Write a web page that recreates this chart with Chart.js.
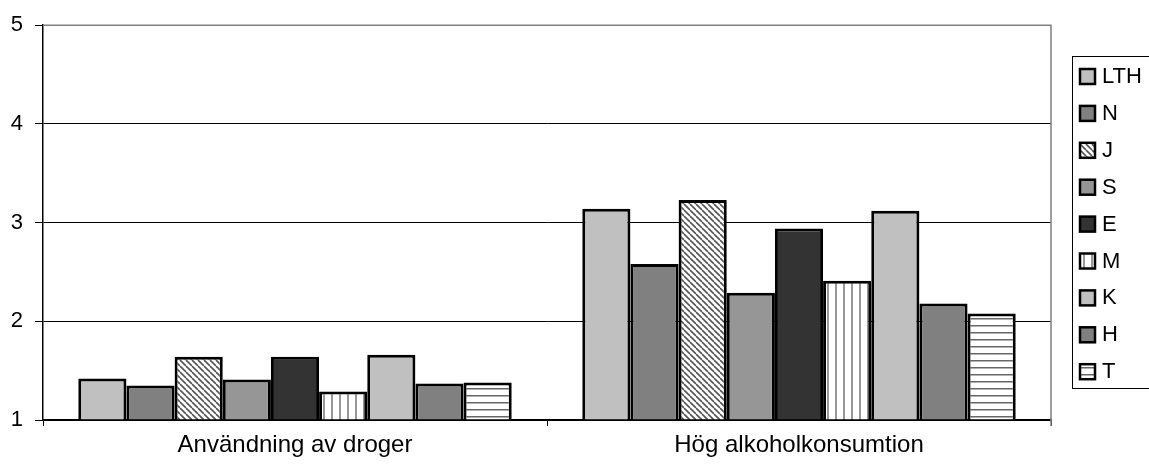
<!DOCTYPE html>
<html>
<head>
<meta charset="utf-8">
<script src="https://cdn.jsdelivr.net/npm/chart.js@4/dist/chart.umd.min.js"></script>
<style>
  html, body { margin: 0; padding: 0; background: #fff; }
  #wrap { width: 1149px; height: 471px; }
</style>
</head>
<body>
<div id="wrap"><canvas id="myBars"></canvas></div>
<script>
const categories = ["Användning av droger", "Hög alkoholkonsumtion"];
const seriesLabels = ["LTH", "N", "J", "S", "E", "M", "K", "H", "T"];
const valLTH = [1.42, 3.14];
const valN = [1.35, 2.58];
const valJ = [1.64, 3.23];
const valS = [1.41, 2.29];
const valE = [1.64, 2.94];
const valM = [1.29, 2.41];
const valK = [1.66, 3.12];
const valH = [1.37, 2.18];
const valT = [1.38, 2.08];
const yTicks = [1, 2, 3, 4, 5];

const ctx = document.getElementById("myBars").getContext("2d");

// small tiles for the hatched fills
function makePattern(kind) {
  const c = document.createElement("canvas");
  const g = c.getContext("2d");
  if (kind === "diag") {
    c.width = 6; c.height = 6;
    g.fillStyle = "#fff"; g.fillRect(0, 0, 6, 6);
    g.strokeStyle = "#555"; g.lineWidth = 1.6;
    for (let k = -6; k <= 12; k += 6) {
      g.beginPath(); g.moveTo(k, 0); g.lineTo(k + 6, 6); g.stroke();
    }
  } else if (kind === "vert") {
    c.width = 8; c.height = 8;
    g.fillStyle = "#fff"; g.fillRect(0, 0, 8, 8);
    g.fillStyle = "#999"; g.fillRect(3, 0, 2, 8);
  } else {
    c.width = 7; c.height = 7;
    g.fillStyle = "#fff"; g.fillRect(0, 0, 7, 7);
    g.fillStyle = "#666"; g.fillRect(0, 3, 7, 1.5);
  }
  return ctx.createPattern(c, "repeat");
}

const fills = ["#c0c0c0", "#808080", makePattern("diag"), "#969696", "#333333",
  makePattern("vert"), "#c0c0c0", "#808080", makePattern("horiz")];
const values = [valLTH, valN, valJ, valS, valE, valM, valK, valH, valT];

const data = {
  labels: categories,
  datasets: seriesLabels.map((name, i) => ({
    label: name,
    data: values[i],
    backgroundColor: fills[i],
    borderColor: "#000",
    borderWidth: 3,
    base: 1,
  })),
};

// frame on top/right and the boxed legend on the right
const extras = {
  id: "extras",
  afterDraw(chart) {
    const c = chart.ctx;
    const a = chart.chartArea;
    c.save();
    c.strokeStyle = "#808080";
    c.lineWidth = 1.5;
    c.beginPath();
    c.moveTo(a.left, a.top);
    c.lineTo(a.right, a.top);
    c.lineTo(a.right, a.bottom + 6);
    c.stroke();

    c.strokeStyle = "#000";
    c.lineWidth = 1;
    c.strokeRect(1072.5, 56.5, 100, 332);
    c.font = "22px 'Liberation Sans', Arial, sans-serif";
    c.textBaseline = "middle";
    chart.data.datasets.forEach((ds, i) => {
      const y = 76 + i * 36.9;
      c.fillStyle = ds.backgroundColor;
      c.fillRect(1080, y - 7, 15, 15);
      c.lineWidth = 2.5;
      c.strokeStyle = "#000";
      c.strokeRect(1080, y - 7, 15, 15);
      c.fillStyle = "#000";
      c.fillText(ds.label, 1102, y + 1);
    });
    c.restore();
  },
};

const options = {
  responsive: true,
  maintainAspectRatio: false,
  animation: false,
  layout: { padding: { top: 24, right: 98, left: 0, bottom: 0 } },
  datasets: { bar: { categoryPercentage: 0.86, barPercentage: 1 } },
  plugins: {
    legend: { display: false },
    tooltip: { enabled: false },
  },
  scales: {
    x: {
      grid: { display: true, drawOnChartArea: false, offset: true, color: "#000", tickLength: 6 },
      border: { color: "#000", width: 1.5 },
      ticks: { color: "#000", padding: 5, font: { family: "'Liberation Sans', Arial", size: 24 } },
      afterFit: (s) => { s.height = 51; },
    },
    y: {
      min: 1,
      max: 5,
      afterBuildTicks: (s) => { s.ticks = yTicks.map(v => ({ value: v })); },
      grid: { color: "#000", lineWidth: 1, tickLength: 8 },
      border: { color: "#000", width: 1.5 },
      ticks: { color: "#000", padding: 12, font: { family: "'Liberation Sans', Arial", size: 22 } },
      afterFit: (s) => { s.width = 43; },
    },
  },
};

new Chart(ctx, {
  type: "bar",
  data: data,
  options: options,
  plugins: [extras],
});
</script>
</body>
</html>
